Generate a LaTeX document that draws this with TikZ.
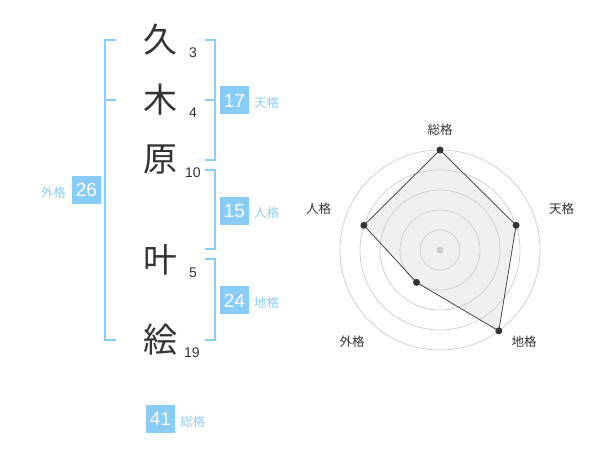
\documentclass[tikz,border=0pt]{standalone}
\usepackage{fontspec}
\usetikzlibrary{calc}
\setmainfont{Liberation Sans}
\newfontfamily\jp{Noto Sans CJK JP}
\definecolor{blu}{HTML}{88CCF8}
\definecolor{blutxt}{HTML}{8CCFF5}
\definecolor{ink}{HTML}{333333}
\definecolor{ring}{HTML}{CCCCCC}
\begin{document}
\begin{tikzpicture}[x=1pt,y=-1pt,
  kanji/.style={inner sep=0pt,text=ink,font=\jp\fontsize{34}{34}\selectfont},
  strokes/.style={inner sep=0pt,text=ink,font=\fontsize{14}{14}\selectfont},
  numbox/.style={fill=blu,text=white,minimum width=29pt,minimum height=28pt,inner sep=0pt,font=\fontsize{19}{19}\selectfont},
  kaku/.style={inner sep=0pt,text=blutxt,font=\jp\fontsize{12.5}{12.5}\selectfont},
  rlabel/.style={inner sep=0pt,text=ink,font=\jp\fontsize{12.5}{12.5}\selectfont},
  brk/.style={draw=blu,line width=2pt},
  ringline/.style={draw=ring,line width=0.7pt},
  dot/.style={circle,fill=ink,inner sep=0pt,minimum size=7pt}]
\useasboundingbox (0,0) rectangle (600,470);
\fill[white] (0,0) rectangle (600,470);
% kanji
\node[kanji] (k1) at (160,39.5) {久};
\node[kanji] (k2) at (160,99.5) {木};
\node[kanji] (k3) at (160,159.5) {原};
\node[kanji] (k4) at (160,259.5) {叶};
\node[kanji] (k5) at (160,339.5) {絵};
\node[strokes] (s1) at (193,52.5) {3};
\node[strokes] (s2) at (193,112.5) {4};
\node[strokes] (s3) at (193,172.5) {10};
\node[strokes] (s4) at (193,272.5) {5};
\node[strokes] (s5) at (192,352.5) {19};
% brackets
\coordinate (la) at (116,40); \coordinate (lb) at (116,100); \coordinate (lc) at (116,340);
\draw[brk] (la) -| (105,340) -- (lc);
\draw[brk] (105,100) -- (lb);
\coordinate (ra) at (205,40); \coordinate (rb) at (205,100); \coordinate (rc) at (205,160);
\draw[brk] (ra) -| (214.5,160) -- (rc);
\draw[brk] (214.5,100) -- (rb);
\coordinate (rd) at (205,170); \coordinate (re) at (205,249.5);
\draw[brk] (rd) -| (214.5,249.5) -- (re);
\coordinate (rf) at (205,259.5); \coordinate (rg) at (205,340);
\draw[brk] (rf) -| (214.5,340) -- (rg);
% boxes
\node[numbox] (b17) at (234.5,100.5) {17};
\node[kaku,anchor=west] (t17) at (254,103) {天格};
\node[numbox] (b15) at (234.5,211) {15};
\node[kaku,anchor=west] (t15) at (254,213) {人格};
\node[numbox] (b24) at (234.5,300.5) {24};
\node[kaku,anchor=west] (t24) at (254,303) {地格};
\node[numbox] (b26) at (86.5,190) {26};
\node[kaku,anchor=east] (t26) at (66,193) {外格};
\node[numbox] (b41) at (160.5,419) {41};
\node[kaku,anchor=west] (t41) at (180,422) {総格};
% radar
\coordinate (c) at (440,250);
\coordinate (p1) at (440,150);
\coordinate (p2) at (516.1,225.3);
\coordinate (p3) at (498.8,330.9);
\coordinate (p4) at (416.5,282.4);
\coordinate (p5) at (363.9,225.3);
\fill[black!6] (p1) -- (p2) -- (p3) -- (p4) -- (p5) -- cycle;
\foreach \r in {20,40,60,80,100} \draw[ringline] (c) circle[radius=\r];
\draw[ink,line width=0.7pt] (p1) -- (p2) -- (p3) -- (p4) -- (p5) -- cycle;
\node[circle,fill=ring,inner sep=0pt,minimum size=7pt] (cd) at (c) {};
\node[dot] (d1) at (p1) {};
\node[dot] (d2) at (p2) {};
\node[dot] (d3) at (p3) {};
\node[dot] (d4) at (p4) {};
\node[dot] (d5) at (p5) {};
\node[rlabel] (r1) at (440,130) {総格};
\node[rlabel] (r2) at (561.5,208.5) {天格};
\node[rlabel] (r3) at (524,341.5) {地格};
\node[rlabel] (r4) at (352,341.5) {外格};
\node[rlabel] (r5) at (318.5,208.5) {人格};
\end{tikzpicture}
\end{document}
